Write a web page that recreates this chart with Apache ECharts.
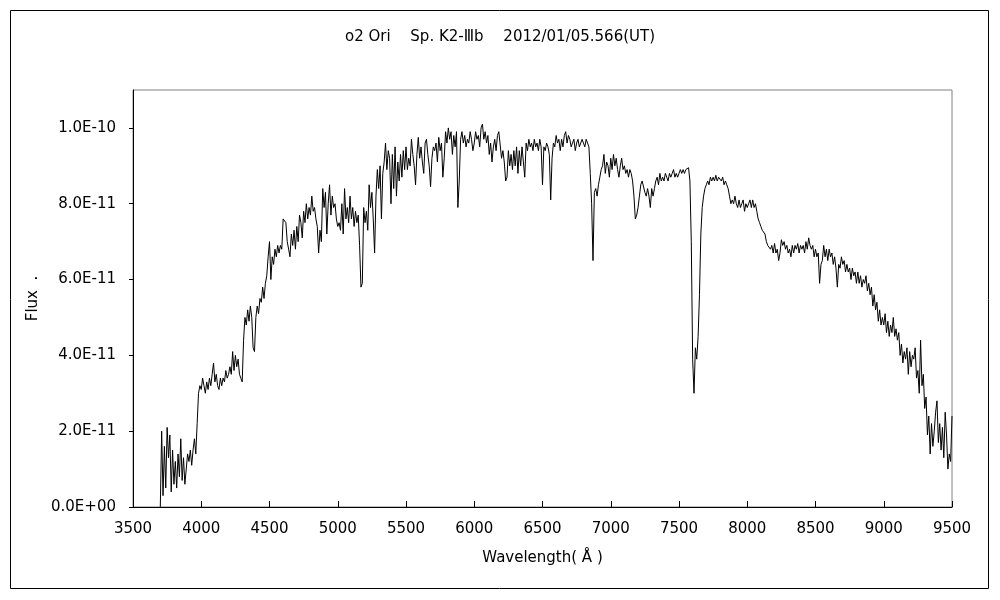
<!DOCTYPE html>
<html>
<head>
<meta charset="utf-8">
<script src="https://cdn.jsdelivr.net/npm/echarts@6/dist/echarts.min.js"></script>
<style>html,body{margin:0;padding:0;background:#fff}#c{width:1000px;height:600px}</style>
</head>
<body>
<div id="c"></div>
<script>
// Flux in units of 1E-11, sampled every 10 Å; each segment lists its starting wavelength.
const stepA = 10;
const seg3700 = [0.0,2.0,0.3,1.6,0.5,2.1,1.3,1.9,0.4,1.5,0.6,1.2,0.5,1.4,0.8,1.8,0.7,1.3,0.6,1.0,1.4,1.2,1.5,1.1,1.5,1.8,1.4,2.2,3.0,3.2];
const seg4000 = [3.1,3.4,3.2,3.0,3.3,3.1,3.4,3.2,3.5,3.8,3.3,3.5,3.2,3.1,3.4,3.2,3.4,3.3,3.6,3.4,3.5,3.7,3.5,4.1,3.6,4.0,3.7,3.9,3.5,3.4,3.3,4.4,5.0,4.8,5.2,4.9,5.3,5.0,4.2,4.1,5.0,5.3,5.1,5.5,5.4,5.8,5.5,5.9,6.1,6.6];
const seg4500 = [7.0,6.0,6.6,6.4,6.8,6.6,6.9,6.7,6.9,6.8,7.6,7.6,7.5,7.0,6.8,6.6,7.2,6.9,7.3,6.8,7.4,7.0,7.7,7.5,7.1,7.8,7.5,8.0,7.6,7.9,7.7,8.2,7.8,7.9,7.6,7.4,6.7,7.3,7.0,8.4,7.9,8.3,7.2,8.0,8.5,7.7,8.2,7.9,8.0,7.6];
const seg5000 = [7.4,7.5,7.3,8.0,7.2,8.4,7.6,7.9,7.5,8.2,7.6,7.9,7.4,7.8,7.5,7.7,6.9,5.8,5.9,7.9,7.5,7.8,7.3,8.5,7.9,8.3,7.6,6.7,8.2,8.9,8.4,9.0,7.6,8.8,9.1,9.6,8.9,9.4,9.2,8.0,9.3,8.4,9.5,8.2,9.1,8.6,9.3,8.7,9.4,8.9];
const seg5500 = [9.5,8.9,9.2,9.0,9.7,9.3,9.0,8.5,9.3,9.75,9.2,9.5,9.1,8.8,9.6,9.7,9.3,9.0,8.45,9.2,9.5,9.4,9.6,9.1,9.75,9.4,9.6,8.7,9.2,9.9,9.6,10.0,9.7,9.9,9.3,9.8,9.5,9.9,7.9,8.6,9.7,9.9,9.6,9.8,9.5,9.7,9.6,9.9,9.7,9.4];
const seg6000 = [9.6,9.9,9.7,9.8,9.5,10.0,10.1,9.7,9.9,9.6,9.8,9.3,9.6,9.1,9.5,9.7,9.4,9.8,9.9,9.9,9.2,9.4,9.1,8.6,8.7,9.4,9.0,9.3,8.9,9.4,9.0,9.5,8.8,9.4,9.0,9.5,9.1,8.7,9.6,9.4,9.7,9.5,9.6,9.4,9.7,9.5,9.6,9.4,9.7,9.5];
const seg6500 = [8.5,9.5,9.4,9.6,9.5,9.3,8.1,9.2,9.6,9.5,9.8,9.6,9.7,9.4,9.7,9.5,9.8,9.9,9.6,9.8,9.7,9.5,9.6,9.7,9.4,9.6,9.7,9.5,9.6,9.7,9.6,9.5,9.7,9.6,9.5,8.8,8.0,6.5,8.3,8.4,8.2,8.5,8.7,8.9,9.0,9.3,8.8,9.1,9.0,8.7];
const seg7000 = [9.2,8.9,9.3,9.0,9.2,8.9,8.7,9.0,9.2,8.9,9.0,8.8,8.9,8.7,8.9,8.8,8.6,8.2,7.6,7.7,7.9,8.2,8.5,8.6,8.6,8.3,8.2,8.4,8.2,7.9,8.4,8.2,8.4,8.6,8.7,8.5,8.8,8.6,8.7,8.6,8.8,8.7,8.6,8.8,8.7,8.8,8.9,8.7,8.8,8.7];
const seg7500 = [8.8,8.9,8.8,8.9,8.8,8.9,8.9,8.95,8.6,7.0,3.9,3.0,4.2,3.9,4.5,5.6,7.2,7.9,8.2,8.4,8.5,8.6,8.5,8.7,8.6,8.7,8.6,8.75,8.6,8.7,8.7,8.6,8.7,8.5,8.6,8.5,8.4,8.2,8.0,8.1,8.0,8.2,8.0,7.9,8.1,7.9,8.0,8.1,7.8,8.0];
const seg8000 = [7.9,8.0,8.1,7.9,8.1,7.9,8.0,7.8,7.6,7.5,7.4,7.3,7.3,7.2,7.0,6.9,6.95,6.8,6.9,6.7,6.95,6.7,6.8,6.5,6.7,7.05,6.9,7.0,6.8,6.9,6.7,6.8,6.6,6.9,6.7,6.9,6.8,6.95,6.7,6.9,6.8,6.9,6.7,7.0,6.8,7.1,6.9,6.8,6.9,6.6];
const seg8500 = [6.8,6.6,6.7,5.9,6.4,6.5,6.9,6.6,6.8,6.5,6.8,6.6,6.7,6.4,6.6,6.3,5.8,6.4,6.3,6.6,6.4,6.5,6.2,6.4,6.2,6.3,6.0,6.3,6.1,6.2,5.9,6.2,5.9,6.1,5.8,6.0,5.9,6.1,5.7,5.9,5.6,5.8,5.3,5.6,5.2,5.4,4.9,5.2,4.8,5.0];
const seg9000 = [4.8,5.1,4.6,4.9,4.5,4.8,4.6,5.0,4.5,4.7,4.4,4.6,4.0,4.3,3.8,4.1,3.9,4.2,3.5,4.1,3.7,4.0,3.9,4.2,3.4,3.6,3.0,4.4,3.2,3.5,2.6,2.9,1.9,2.4,1.4,2.2,1.6,2.0,2.5,2.8,1.7,2.2,1.5,2.1,1.3,2.5,1.9,1.0,1.4,1.2,2.4];
const segments = [[3700,seg3700],[4000,seg4000],[4500,seg4500],[5000,seg5000],[5500,seg5500],[6000,seg6000],[6500,seg6500],[7000,seg7000],[7500,seg7500],[8000,seg8000],[8500,seg8500],[9000,seg9000]];

const xTicks = [3500,4000,4500,5000,5500,6000,6500,7000,7500,8000,8500,9000,9500];
const yTicks = [0,2,4,6,8,10];

const data = [];
segments.forEach(([start, arr]) => arr.forEach((v, i) => data.push([start + i * stepA, v])));

function fmtY(v) {
  if (yTicks.indexOf(v) < 0) return '';
  if (v === 0) return '0.0E+00';
  return (v * 1e-11).toExponential(1).replace('e', 'E').replace(/E([+-])(\d)$/, 'E$10$2');
}

const chart = echarts.init(document.getElementById('c'), null, {renderer: 'canvas'});
const txt = {fontFamily: 'DejaVu Sans', fontSize: 15, color: '#000'};
chart.setOption({
  animation: false,
  backgroundColor: '#fff',
  title: {
    text: 'ο2 Ori　 Sp. K2-Ⅲb　 2012/01/05.566(UT)',
    left: 'center', top: 25,
    textStyle: {fontFamily: 'DejaVu Sans', fontSize: 15, fontWeight: 'normal', color: '#000'}
  },
  graphic: [{
    type: 'rect', shape: {x: 10.5, y: 10.5, width: 978, height: 578},
    style: {fill: 'none', stroke: '#000', lineWidth: 1}, silent: true, z: -1
  }],
  grid: {left: 133, right: 48, top: 90, bottom: 93, show: true, borderColor: '#808080', borderWidth: 1},
  xAxis: {
    type: 'value', min: 3500, max: 9500, interval: 500,
    name: 'Wavelength( Å )', nameLocation: 'middle', nameGap: 44,
    nameTextStyle: Object.assign({}, txt),
    axisLine: {show: true, lineStyle: {color: '#000', width: 1}},
    axisTick: {show: true, inside: true, length: 6, lineStyle: {color: '#000'}, customValues: xTicks},
    axisLabel: Object.assign({margin: 15, customValues: xTicks, formatter: v => String(v)}, txt),
    splitLine: {show: false}
  },
  yAxis: {
    type: 'value', min: 0, max: 11, interval: 2,
    name: 'Flux  .', nameLocation: 'middle', nameGap: 78, nameRotate: 90,
    nameTextStyle: Object.assign({}, txt),
    axisLine: {show: true, lineStyle: {color: '#000', width: 1}},
    axisTick: {show: true, inside: false, length: 4, lineStyle: {color: '#000'}, customValues: yTicks},
    axisLabel: Object.assign({margin: 17, customValues: yTicks, formatter: fmtY}, txt),
    splitLine: {show: false}
  },
  series: [{
    type: 'line', data: data, showSymbol: false, symbol: 'none',
    lineStyle: {color: '#000', width: 1}, clip: true, z: 3
  }]
});
</script>
</body>
</html>
